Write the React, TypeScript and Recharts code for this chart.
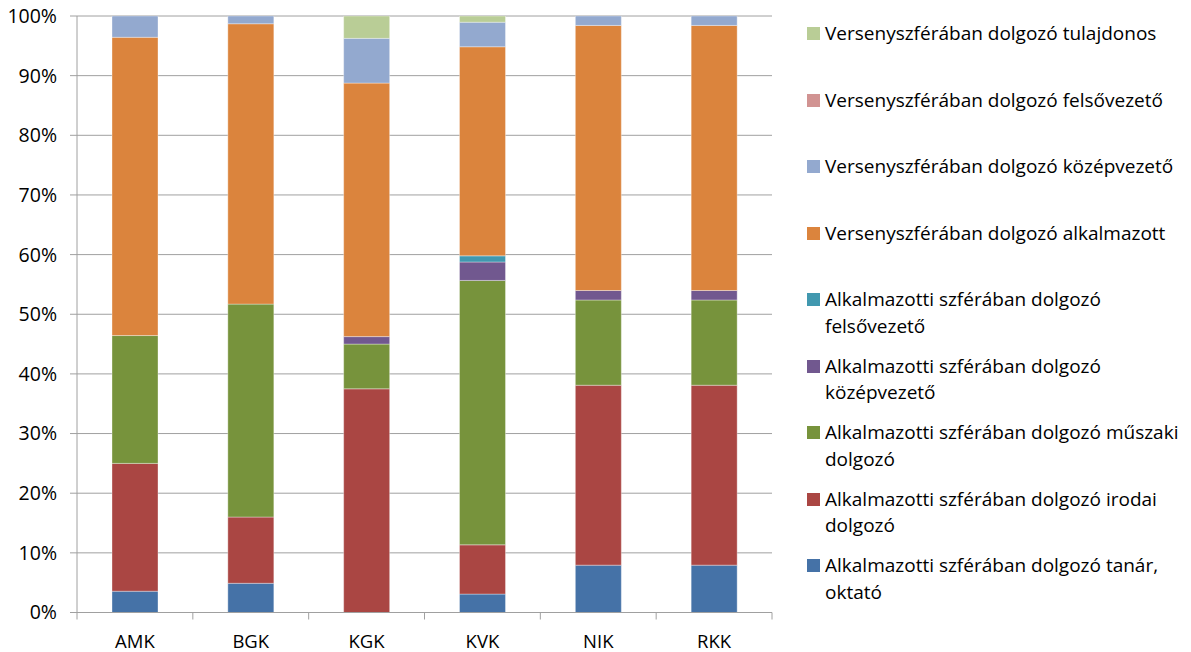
import React from 'react';
import { BarChart, Bar, XAxis, YAxis, CartesianGrid } from 'recharts';

const categories = ['AMK', 'BGK', 'KGK', 'KVK', 'NIK', 'RKK'];

const tanar = [3.57, 4.9, 0, 3.09, 7.94, 7.94];
const irodai = [21.43, 11.1, 37.5, 8.25, 30.16, 30.16];
const muszaki = [21.43, 35.7, 7.5, 44.33, 14.29, 14.29];
const alkKozep = [0, 0, 1.25, 3.09, 1.59, 1.59];
const alkFelso = [0, 0, 0, 1.03, 0, 0];
const versAlk = [50, 47.0, 42.5, 35.05, 44.44, 44.44];
const versKozep = [3.57, 1.3, 7.5, 4.12, 1.59, 1.59];
const versFelso = [0, 0, 0, 0, 0, 0];
const tulaj = [0, 0, 3.75, 1.03, 0, 0];

const yTicks = [0, 10, 20, 30, 40, 50, 60, 70, 80, 90, 100];

// bottom to top stacking order
const series = [
  { key: 'tanar', name: 'Alkalmazotti szférában dolgozó tanár, oktató', lines: ['Alkalmazotti szférában dolgozó tanár,', 'oktató'], values: tanar, color: '#4572A7' },
  { key: 'irodai', name: 'Alkalmazotti szférában dolgozó irodai dolgozó', lines: ['Alkalmazotti szférában dolgozó irodai', 'dolgozó'], values: irodai, color: '#AA4643' },
  { key: 'muszaki', name: 'Alkalmazotti szférában dolgozó műszaki dolgozó', lines: ['Alkalmazotti szférában dolgozó műszaki', 'dolgozó'], values: muszaki, color: '#77933C' },
  { key: 'alkKozep', name: 'Alkalmazotti szférában dolgozó középvezető', lines: ['Alkalmazotti szférában dolgozó', 'középvezető'], values: alkKozep, color: '#71588F' },
  { key: 'alkFelso', name: 'Alkalmazotti szférában dolgozó felsővezető', lines: ['Alkalmazotti szférában dolgozó', 'felsővezető'], values: alkFelso, color: '#4198AF' },
  { key: 'versAlk', name: 'Versenyszférában dolgozó alkalmazott', lines: ['Versenyszférában dolgozó alkalmazott'], values: versAlk, color: '#DB843D' },
  { key: 'versKozep', name: 'Versenyszférában dolgozó középvezető', lines: ['Versenyszférában dolgozó középvezető'], values: versKozep, color: '#93A9CF' },
  { key: 'versFelso', name: 'Versenyszférában dolgozó felsővezető', lines: ['Versenyszférában dolgozó felsővezető'], values: versFelso, color: '#D19392' },
  { key: 'tulaj', name: 'Versenyszférában dolgozó tulajdonos', lines: ['Versenyszférában dolgozó tulajdonos'], values: tulaj, color: '#B9CD96' },
];

const data = categories.map((cat, i) => {
  const row: Record<string, string | number> = { cat };
  series.forEach((s) => {
    row[s.key] = s.values[i];
  });
  return row;
});

const FONT = '"Open Sans", "Noto Sans", sans-serif';
const GRID = '#A0A0A0';

const XTick = (props: any) => {
  const { x, y, payload, index } = props;
  const half = payload && payload.offset != null ? payload.offset : props.width / categories.length / 2;
  const axisY = y - 7;
  const last = index === categories.length - 1;
  return (
    <g>
      <line x1={x - half} x2={x - half} y1={axisY} y2={axisY + 7} stroke={GRID} strokeWidth={1} />
      {last && <line x1={x + half} x2={x + half} y1={axisY} y2={axisY + 7} stroke={GRID} strokeWidth={1} />}
      <text x={x} y={axisY + 27.5} textAnchor="middle" dominantBaseline="central" fill="#000" fontSize={18.5} fontFamily={FONT}>
        {payload.value}
      </text>
    </g>
  );
};

export default function App() {
  const legendItems = [...series].reverse();
  return (
    <div style={{ position: 'absolute', left: 0, top: 0, width: 1191, height: 652, background: '#fff' }}>
      <BarChart
        width={1191}
        height={652}
        data={data}
        margin={{ top: 16, right: 419, bottom: 0, left: 0 }}
        barSize={46}
      >
        <CartesianGrid vertical={false} stroke={GRID} strokeWidth={1} />
        <XAxis
          dataKey="cat"
          tickLine={false}
          tickSize={7}
          tickMargin={0}
          axisLine={{ stroke: GRID }}
          tick={<XTick />}
          interval={0}
          height={39.5}
        />
        <YAxis
          width={77}
          domain={[0, 100]}
          ticks={yTicks}
          allowDataOverflow
          tickFormatter={(v: number) => `${v}%`}
          tickSize={7}
          tickMargin={13}
          tickLine={{ stroke: GRID }}
          axisLine={{ stroke: GRID }}
          tick={{ fill: '#000', fontSize: 19.5, fontFamily: FONT }}
        />
        {series.map((s) => (
          <Bar
            key={s.key}
            dataKey={s.key}
            name={s.name}
            stackId="a"
            fill={s.color}
            stroke="#ffffff"
            strokeOpacity={0.35}
            strokeWidth={1}
            isAnimationActive={false}
          />
        ))}
      </BarChart>
      <div style={{ position: 'absolute', left: 807, top: 0, width: 384, fontFamily: FONT, fontSize: 19, color: '#000' }}>
        {legendItems.map((s) => (
          <div key={s.key} style={{ height: 66.5, position: 'relative' }}>
            <div style={{ position: 'absolute', left: 0, top: 27, width: 13, height: 13, background: s.color }} />
            <div style={{ position: 'absolute', left: 18, top: 20, lineHeight: '26.5px', whiteSpace: 'nowrap' }}>
              {s.lines.map((l, i) => (
                <div key={i}>{l}</div>
              ))}
            </div>
          </div>
        ))}
      </div>
    </div>
  );
}
